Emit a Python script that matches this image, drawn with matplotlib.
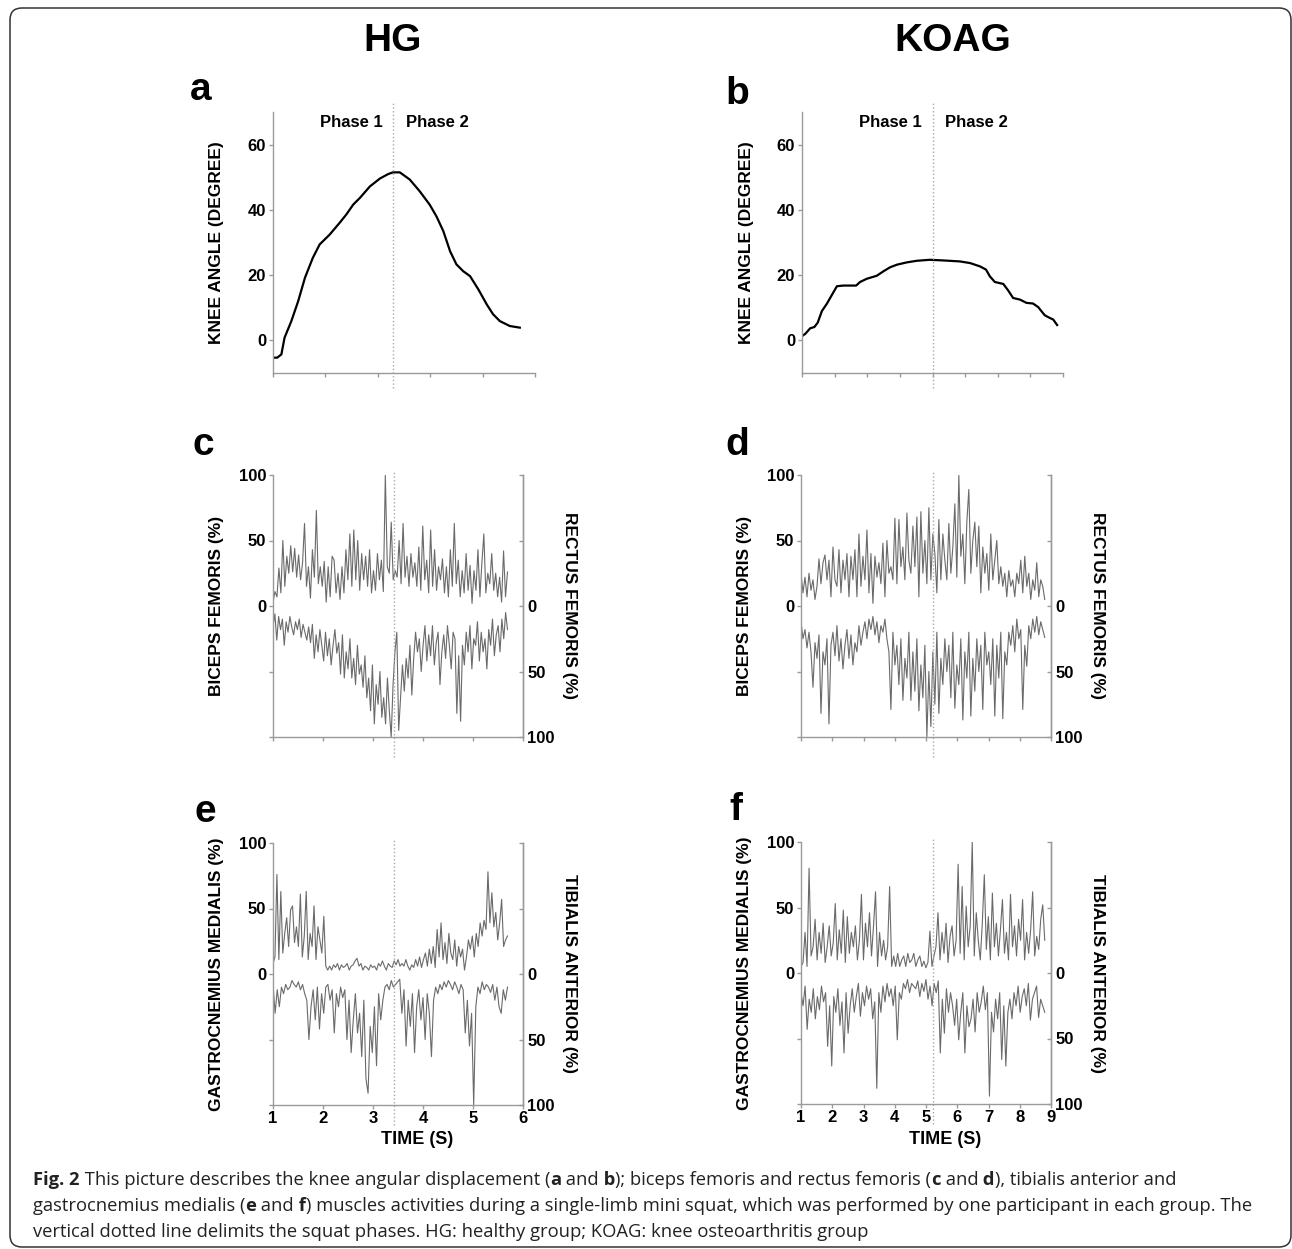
import numpy as np
import matplotlib
matplotlib.use('Agg')
import matplotlib.pyplot as plt
from matplotlib.patches import FancyBboxPatch
from matplotlib.transforms import IdentityTransform

# ---------------- data ----------------
# knee angle (degree) vs time, healthy group (a) and KOA group (b)
hg_time = [1.00, 1.08, 1.16, 1.22, 1.35, 1.48, 1.61, 1.76, 1.89, 2.08, 2.27, 2.40,
           2.53, 2.66, 2.85, 3.04, 3.20, 3.29, 3.42, 3.61, 3.80, 3.99, 4.12, 4.25,
           4.38, 4.50, 4.63, 4.76, 4.92, 5.08, 5.20, 5.33, 5.52, 5.71]
hg_angle = [-5.3, -5.3, -4.3, 0.8, 5.9, 12.0, 19.2, 25.3, 29.4, 32.4, 36.0, 38.6,
            41.6, 43.7, 47.2, 49.6, 51.0, 51.5, 51.5, 49.3, 45.7, 41.6, 38.0, 33.5,
            27.3, 23.3, 21.2, 19.7, 15.6, 11.0, 8.0, 5.9, 4.4, 3.9]

koa_time = [1.00, 1.10, 1.25, 1.38, 1.48, 1.61, 1.76, 1.92, 2.07, 2.27, 2.66, 2.78,
            2.99, 3.29, 3.50, 3.70, 3.91, 4.21, 4.52, 4.92, 5.33, 5.84, 6.15, 6.45,
            6.64, 6.76, 6.91, 7.17, 7.32, 7.47, 7.68, 7.88, 8.08, 8.24, 8.44, 8.59,
            8.70, 8.82]
koa_angle = [1.3, 2.0, 3.7, 4.1, 5.4, 9.0, 11.2, 14.0, 16.6, 16.8, 16.8, 17.9,
             18.9, 19.8, 21.2, 22.4, 23.2, 23.9, 24.4, 24.7, 24.5, 24.2, 23.7, 22.7,
             21.7, 19.6, 17.9, 17.3, 15.3, 13.0, 12.5, 11.5, 11.3, 10.2, 7.7, 6.9,
             6.4, 4.7]

# EMG (% of max), sampled evenly between the start and end time of each record
hg_emg_span = (1.0, 5.69)
koa_emg_span = (1.0, 8.80)

hg_biceps = [3, 11, 7, 29, 10, 50, 15, 38, 25, 46, 26, 44, 22, 39, 20, 33, 63, 15, 30, 6,
             43, 22, 73, 17, 30, 15, 34, 3, 30, 7, 38, 35, 10, 25, 5, 30, 10, 43, 20, 55,
             15, 58, 20, 50, 12, 40, 20, 38, 15, 43, 10, 27, 12, 40, 20, 35, 11, 100, 30, 25,
             64, 20, 27, 22, 50, 17, 63, 22, 38, 15, 40, 22, 33, 15, 45, 12, 61, 20, 35, 10,
             58, 15, 43, 12, 30, 20, 36, 10, 30, 7, 43, 15, 63, 17, 35, 7, 27, 10, 40, 12,
             31, 2, 27, 12, 43, 7, 33, 55, 10, 25, 17, 40, 12, 25, 7, 22, 3, 42, 7, 26]
hg_rectus = [16, 6, 26, 8, 18, 10, 30, 12, 20, 8, 16, 22, 12, 18, 10, 24, 14, 20, 26, 16,
             28, 14, 40, 22, 35, 18, 30, 42, 20, 38, 25, 45, 30, 18, 36,
             28, 52, 22, 55, 35, 48, 25, 55, 40, 60, 30, 52, 45, 62, 38, 70,
             55, 80, 45, 90, 60, 75, 50, 85, 70, 90, 55, 80,
             100, 60, 35, 20, 95, 70, 45, 65, 40,
             55, 30, 68, 40, 20, 35, 25, 50, 30, 15, 42, 22, 38, 15, 45, 28, 20, 60, 35,
             22, 40, 15, 30, 48, 20, 25, 82, 38, 88, 30, 45, 20, 35, 15, 48, 25,
             30, 12, 42, 20, 35, 25, 48, 18, 30, 10, 38, 22, 15, 35, 10, 25, 5, 18]

koa_biceps = [25, 10, 22, 7, 25, 12, 20, 5, 15, 36, 17, 33, 39, 20, 35, 7, 45, 20, 15, 43,
              10, 35, 20, 40, 7, 38, 20, 43, 7, 55, 15, 38, 20, 58, 10, 40, 2, 38, 22, 33,
              17, 48, 7, 50, 25, 30, 20, 67, 17, 66, 30, 45, 20, 71, 35, 25, 61, 30, 68, 7,
              72, 25, 50, 17, 75, 20, 55, 40, 10, 66, 20, 55, 35, 20, 63, 25, 45, 78, 22, 100,
              38, 55, 17, 64, 89, 25, 50, 64, 30, 61, 10, 45, 25, 40, 12, 55, 20, 35, 50, 17,
              30, 15, 25, 7, 27, 15, 20, 7, 25, 17, 35, 10, 38, 15, 25, 5, 20, 12, 33, 7,
              20, 15, 5]
koa_rectus = [12, 25, 18, 32, 20, 35, 62, 28, 40, 22, 82, 35, 45, 25, 90, 30, 20, 38, 15, 42,
              25, 48, 30, 18, 40, 22, 45, 28, 35, 15, 30, 20, 12, 25, 10, 18, 8, 22, 12, 28,
              15, 20, 10, 25, 35, 79, 20, 45, 30, 60, 25, 72, 40, 55, 20, 72, 35, 65, 25, 80,
              45, 70, 30, 100, 50, 92, 35, 75, 20, 82, 40, 60, 25, 50, 30, 70, 20, 78, 45, 60,
              25, 87, 35, 55, 20, 84, 40, 65, 25, 50, 30, 79, 20, 45, 35, 60, 25, 84, 30, 55,
              20, 86, 35, 45, 20, 30, 15, 35, 10, 25, 18, 79, 30, 46, 15, 25, 10, 20, 8, 22,
              12, 18, 24]

hg_gastroc = [8, 13, 76, 11, 63, 16, 31, 43, 21, 49, 52, 24, 36, 21, 61, 13, 29, 63, 11, 31,
              21, 52, 11, 36, 26, 16, 44, 6, 3, 6, 3, 7, 5, 8, 3, 7, 5, 6, 8, 3,
              6, 7, 10, 12, 6, 8, 3, 6, 5, 3, 7, 5, 6, 3, 8, 6, 10, 6, 3, 8,
              6, 5, 10, 7, 11, 6, 8, 6, 11, 6, 3, 7, 5, 11, 6, 13, 5, 11, 16, 6,
              19, 8, 21, 5, 34, 13, 39, 11, 24, 8, 31, 16, 11, 26, 6, 21, 13, 19, 3, 13,
              26, 19, 29, 13, 31, 21, 39, 29, 41, 34, 78, 39, 62, 36, 47, 26, 39, 57, 21, 26, 29]
hg_tibialis = [8, 30, 12, 25, 10, 15, 8, 12, 10, 5, 8, 10, 6, 12, 8, 15, 20, 50, 25, 12,
               35, 10, 42, 15, 30, 10, 8, 20, 12, 45, 15, 25, 10, 18, 12, 50, 20, 60, 35, 15,
               45, 30, 63, 20, 80, 91, 40, 60, 25, 70, 15, 35, 20, 10, 8, 12, 5, 10, 8, 6,
               4, 30, 12, 55, 20, 40, 15, 60, 25, 12, 35, 18, 50, 15, 30, 63, 20, 10, 15, 8,
               12, 6, 10, 5, 8, 12, 6, 10, 15, 8, 12, 45, 20, 55, 30, 100, 25, 10, 15, 6,
               12, 8, 10, 14, 8, 20, 10, 25, 30, 12, 20, 10]

koa_gastroc = [5, 8, 31, 5, 80, 13, 20, 41, 10, 31, 15, 38, 8, 20, 36, 13, 23, 53, 10, 33,
               15, 48, 8, 43, 15, 31, 20, 36, 10, 25, 60, 10, 38, 20, 46, 13, 36, 62, 5, 31,
               13, 25, 10, 20, 66, 5, 13, 5, 15, 5, 10, 13, 5, 15, 8, 10, 15, 5, 10, 13,
               5, 9, 4, 8, 32, 5, 13, 20, 46, 10, 31, 15, 38, 8, 28, 36, 13, 25, 83, 15,
               66, 10, 51, 20, 36, 100, 13, 46, 25, 10, 38, 75, 18, 43, 10, 61, 20, 38, 13, 33,
               56, 15, 31, 10, 60, 20, 36, 13, 41, 25, 56, 10, 31, 15, 33, 62, 13, 28, 18, 41,
               52, 25]
koa_tibialis = [15, 25, 10, 43, 20, 30, 12, 35, 18, 28, 10, 22, 15, 56, 25, 71, 18, 30, 12, 40,
                22, 61, 15, 46, 25, 12, 30, 18, 8, 33, 15, 25, 10, 20, 12, 35, 22, 88, 15, 30,
                10, 22, 8, 18, 12, 25, 10, 51, 15, 20, 8, 12, 5, 15, 8, 10, 12, 6, 18, 8,
                14, 5, 20, 10, 25, 8, 15, 6, 61, 20, 46, 12, 30, 15, 25, 40, 20, 51, 30, 15,
                61, 25, 41, 35, 20, 45, 15, 30, 22, 10, 28, 15, 94, 30, 45, 20, 35, 15, 66, 25,
                71, 30, 20, 35, 15, 25, 10, 30, 18, 12, 25, 8, 36, 20, 15, 10, 34, 20, 25, 30]

# time where phase 1 ends and phase 2 starts
hg_split_knee = 3.29
koa_split_knee = 5.0
hg_split = 3.41
koa_split = 5.22

caption = [
    [("Fig. 2", True), (" This picture describes the knee angular displacement (", False),
     ("a", True), (" and", False), (" b", True), ("); biceps femoris and rectus femoris (", False),
     ("c", True), (" and", False), (" d", True), ("), tibialis anterior and", False)],
    [("gastrocnemius medialis (", False), ("e", True), (" and", False), (" f", True),
     (") muscles activities during a single-limb mini squat, which was performed by one participant in each group. The", False)],
    [("vertical dotted line delimits the squat phases. HG: healthy group; KOAG: knee osteoarthritis group", False)],
]

# ---------------- figure helpers ----------------
W, H = 1292, 1249
AX_GRAY = '#9a9a9a'
EMG_GRAY = '#6a6a6a'
DOT_GRAY = '#a8a8a8'

plt.rcParams['font.family'] = ['Liberation Sans', 'DejaVu Sans']
plt.rcParams['font.weight'] = 'bold'

fig = plt.figure(figsize=(W / 100, H / 100), dpi=100)


def fig_rect(l, t, r, b):
    return [l / W, 1 - b / H, (r - l) / W, (b - t) / H]


def fx(x):
    return x / W


def fy(y):
    return 1 - y / H


def gray_axes(ax):
    for side in ['left', 'right', 'bottom', 'top']:
        ax.spines[side].set_color(AX_GRAY)
        ax.spines[side].set_linewidth(1.0)
    ax.tick_params(colors=AX_GRAY, labelcolor='black', labelsize=12, width=1.0, length=3, pad=2)
    ax.patch.set_alpha(0)


def knee_panel(rect, t, angle, nticks, split, letter, letter_xy, phase_y, phase_x):
    ax = fig.add_axes(fig_rect(*rect))
    ax.plot(t, angle, color='black', lw=1.6)
    ax.set_xlim(1, nticks)
    ax.set_ylim(-10, 70)
    ax.set_xticks(range(1, nticks + 1))
    ax.set_xticklabels([])
    ax.set_yticks([0, 20, 40, 60])
    ax.spines['top'].set_visible(False)
    ax.spines['right'].set_visible(False)
    gray_axes(ax)
    ax.vlines(split, -14.6, 72.7, colors=DOT_GRAY, linestyles=':', lw=1.0, clip_on=False)
    fig.text(fx(phase_x[0]), fy(phase_y), 'Phase 1', ha='right', va='baseline', fontsize=12)
    fig.text(fx(phase_x[1]), fy(phase_y), 'Phase 2', ha='left', va='baseline', fontsize=12)
    fig.text(fx(letter_xy[0]), fy(letter_xy[1]), letter, ha='left', va='baseline', fontsize=28)
    fig.text(fx(rect[0] - 56), fy((rect[1] + rect[3]) / 2), 'KNEE ANGLE (DEGREE)',
             rotation=90, ha='center', va='center', fontsize=12.5)
    return ax


def emg_panel(rect, span, top, bottom, nticks, split, letter, letter_xy,
              left_label, right_label, show_time):
    ax = fig.add_axes(fig_rect(*rect))
    ax.plot(np.linspace(span[0], span[1], len(top)), top, color=EMG_GRAY, lw=0.8)
    ax.plot(np.linspace(span[0], span[1], len(bottom)), -np.array(bottom), color=EMG_GRAY, lw=0.8)
    ax.set_xlim(1, nticks)
    ax.set_ylim(-100, 100)
    ax.set_xticks(range(1, nticks + 1))
    if not show_time:
        ax.set_xticklabels([])
    ax.set_yticks([-100, -50, 0, 50, 100])
    ax.set_yticklabels(['', '', '0', '50', '100'])
    ax.spines['top'].set_visible(False)
    gray_axes(ax)
    ax.tick_params(axis='x', length=3, pad=1)

    ax2 = ax.twinx()
    ax2.set_ylim(100, -100)
    ax2.set_yticks([-100, -50, 0, 50, 100])
    ax2.set_yticklabels(['', '', '0', '50', '100'])
    ax2.spines['top'].set_visible(False)
    ax2.spines['left'].set_visible(False)
    ax2.spines['bottom'].set_visible(False)
    gray_axes(ax2)
    ax2.tick_params(axis='y', direction='in', length=3, pad=3)

    ax.vlines(split, -115, 102, colors=DOT_GRAY, linestyles=':', lw=1.0, clip_on=False)
    cy = (rect[1] + rect[3]) / 2
    fig.text(fx(letter_xy[0]), fy(letter_xy[1]), letter, ha='left', va='baseline', fontsize=28)
    fig.text(fx(rect[0] - 56), fy(cy), left_label, rotation=90, ha='center', va='center', fontsize=12.5)
    fig.text(fx(rect[2] + 47), fy(cy), right_label, rotation=270, ha='center', va='center', fontsize=12.5)
    if show_time:
        fig.text(fx((rect[0] + rect[2]) / 2 + 19), fy(1140), 'TIME (S)', ha='center', va='center', fontsize=13)
    return ax


# ---------------- panels ----------------
fig.text(fx(393), fy(41), 'HG', ha='center', va='center', fontsize=28)
fig.text(fx(953), fy(41), 'KOAG', ha='center', va='center', fontsize=28)

knee_panel((273, 112, 535, 373), hg_time, hg_angle, 6, hg_split_knee, 'a', (190, 100), 127, (383, 406))
knee_panel((802, 112, 1063, 373), koa_time, koa_angle, 9, koa_split_knee, 'b', (725, 104), 127, (922, 945))

emg_panel((273, 475, 523, 737), hg_emg_span, hg_biceps, hg_rectus, 6, hg_split, 'c', (192, 455),
          'BICEPS FEMORIS (%)', 'RECTUS FEMORIS (%)', False)
emg_panel((801, 475, 1051, 737), koa_emg_span, koa_biceps, koa_rectus, 9, koa_split, 'd', (725, 455),
          'BICEPS FEMORIS (%)', 'RECTUS FEMORIS (%)', False)
emg_panel((273, 843, 523, 1105), hg_emg_span, hg_gastroc, hg_tibialis, 6, hg_split, 'e', (194, 822),
          'GASTROCNEMIUS MEDIALIS (%)', 'TIBIALIS ANTERIOR (%)', True)
emg_panel((801, 842, 1051, 1104), koa_emg_span, koa_gastroc, koa_tibialis, 9, koa_split, 'f', (729, 820),
          'GASTROCNEMIUS MEDIALIS (%)', 'TIBIALIS ANTERIOR (%)', True)

# ---------------- caption and frame ----------------
renderer = fig.canvas.get_renderer()
baselines = [1185, 1211, 1237]
for line, base in zip(caption, baselines):
    x = 33
    for txt, bold in line:
        t = fig.text(fx(x), fy(base), txt, ha='left', va='baseline', fontsize=13.2,
                     family=['Open Sans', 'DejaVu Sans'], weight='bold' if bold else 'normal',
                     color='#222222')
        x += t.get_window_extent(renderer=renderer).width

frame = FancyBboxPatch((10, 2), 1281, 1239, boxstyle='round,pad=0,rounding_size=12',
                       transform=IdentityTransform(), fill=False, ec='#333333', lw=1.1)
fig.patches.append(frame)

fig.savefig('out.png', dpi=100)
